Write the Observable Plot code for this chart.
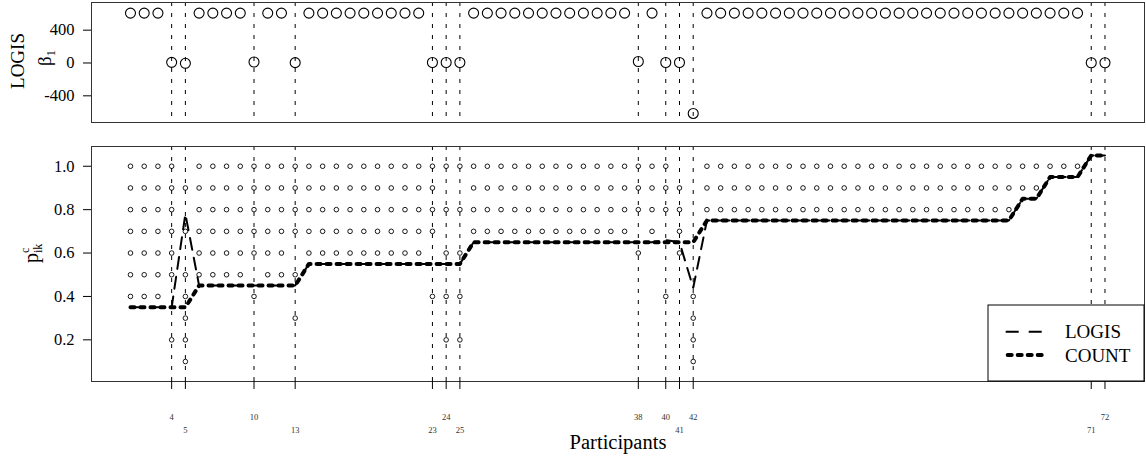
<!DOCTYPE html>
<html><head><meta charset="utf-8">
<script src="https://cdn.jsdelivr.net/npm/d3@7"></script>
<script src="https://cdn.jsdelivr.net/npm/@observablehq/plot@0.6"></script>
<style>
html,body{margin:0;padding:0;background:#fff;}
#chart svg{display:block;}
</style></head><body><div id="chart"></div>
<script>
// ---------------- data ----------------
const participants = d3.range(1, 73);

// LOGIS beta_1 per participant (top panel)
const beta1 = [
  608, 608, 608, 8, -4,                 // 1-5
  608, 608, 608, 608, 12,               // 6-10
  608, 608, 4,                          // 11-13
  608, 608, 608, 608, 608, 608, 608, 608, 608, // 14-22
  6, 6, 6,                              // 23-25
  608, 608, 608, 608, 608, 608, 608, 608, 608, 608, 608, 608, // 26-37
  18, 608, 6, 6, -615,                  // 38-42
  608, 608, 608, 608, 608, 608, 608, 608, 608, 608, 608, 608, 608, 608, // 43-56
  608, 608, 608, 608, 608, 608, 608, 608, 608, 608, 608, 608, 608, 608, // 57-70
  3, 3                                  // 71-72
];

// estimated p^c_ik, COUNT method
const count = [
  0.35, 0.35, 0.35, 0.35, 0.35,                                             // 1-5
  0.45, 0.45, 0.45, 0.45, 0.45, 0.45, 0.45, 0.45,                           // 6-13
  0.55, 0.55, 0.55, 0.55, 0.55, 0.55, 0.55, 0.55, 0.55, 0.55, 0.55, 0.55,   // 14-25
  0.65, 0.65, 0.65, 0.65, 0.65, 0.65, 0.65, 0.65, 0.65, 0.65, 0.65, 0.65, 0.65, 0.65, // 26-39
  0.65, 0.65, 0.65,                                                         // 40-42
  0.75, 0.75, 0.75, 0.75, 0.75, 0.75, 0.75, 0.75, 0.75, 0.75, 0.75, 0.75,   // 43-54
  0.75, 0.75, 0.75, 0.75, 0.75, 0.75, 0.75, 0.75, 0.75, 0.75, 0.75,         // 55-65
  0.85, 0.85,                                                               // 66-67
  0.95, 0.95, 0.95,                                                         // 68-70
  1.05, 1.05                                                                // 71-72
];

// estimated p^c_ik, LOGIS method
const logis = [
  0.35, 0.35, 0.35, 0.35, 0.78,                                             // 1-5
  0.45, 0.45, 0.45, 0.45, 0.45, 0.45, 0.45, 0.45,                           // 6-13
  0.55, 0.55, 0.55, 0.55, 0.55, 0.55, 0.55, 0.55, 0.55, 0.55, 0.55, 0.55,   // 14-25
  0.65, 0.65, 0.65, 0.65, 0.65, 0.65, 0.65, 0.65, 0.65, 0.65, 0.65, 0.65, 0.65, 0.65, // 26-39
  0.66, 0.65, 0.44,                                                         // 40-42
  0.75, 0.75, 0.75, 0.75, 0.75, 0.75, 0.75, 0.75, 0.75, 0.75, 0.75, 0.75,   // 43-54
  0.75, 0.75, 0.75, 0.75, 0.75, 0.75, 0.75, 0.75, 0.75, 0.75, 0.75,         // 55-65
  0.85, 0.85,                                                               // 66-67
  0.95, 0.95, 0.95,                                                         // 68-70
  1.05, 1.05                                                                // 71-72
];

// observed values per participant (small circles, bottom panel)
const observed = [
  [0.4,0.5,0.6,0.7,0.8,0.9,1.0],   // 1
  [0.4,0.5,0.6,0.7,0.8,0.9,1.0],   // 2
  [0.4,0.5,0.6,0.7,0.8,0.9,1.0],   // 3
  [0.2,0.5,0.6,0.7,0.8,0.9,1.0],   // 4
  [0.1,0.2,0.3,0.4,0.5,0.7,0.9],   // 5
  [0.5,0.6,0.7,0.8,0.9,1.0],       // 6
  [0.5,0.6,0.7,0.8,0.9,1.0],       // 7
  [0.5,0.6,0.7,0.8,0.9,1.0],       // 8
  [0.5,0.6,0.7,0.8,0.9,1.0],       // 9
  [0.4,0.6,0.7,0.8,0.9,1.0],       // 10
  [0.5,0.6,0.7,0.8,0.9,1.0],       // 11
  [0.5,0.6,0.7,0.8,0.9,1.0],       // 12
  [0.3,0.5,0.7,0.8,0.9,1.0],       // 13
  [0.6,0.7,0.8,0.9,1.0],           // 14
  [0.6,0.7,0.8,0.9,1.0],           // 15
  [0.6,0.7,0.8,0.9,1.0],           // 16
  [0.6,0.7,0.8,0.9,1.0],           // 17
  [0.6,0.7,0.8,0.9,1.0],           // 18
  [0.6,0.7,0.8,0.9,1.0],           // 19
  [0.6,0.7,0.8,0.9,1.0],           // 20
  [0.6,0.7,0.8,0.9,1.0],           // 21
  [0.6,0.7,0.8,0.9,1.0],           // 22
  [0.4,0.7,0.8,0.9,1.0],           // 23
  [0.2,0.4,0.6,0.8,1.0],           // 24
  [0.2,0.4,0.6,0.8,1.0],           // 25
  [0.7,0.8,0.9,1.0],               // 26
  [0.7,0.8,0.9,1.0],               // 27
  [0.7,0.8,0.9,1.0],               // 28
  [0.7,0.8,0.9,1.0],               // 29
  [0.7,0.8,0.9,1.0],               // 30
  [0.7,0.8,0.9,1.0],               // 31
  [0.7,0.8,0.9,1.0],               // 32
  [0.7,0.8,0.9,1.0],               // 33
  [0.7,0.8,0.9,1.0],               // 34
  [0.7,0.8,0.9,1.0],               // 35
  [0.7,0.8,0.9,1.0],               // 36
  [0.7,0.8,0.9,1.0],               // 37
  [0.6,0.8,0.9,1.0],               // 38
  [0.7,0.8,0.9,1.0],               // 39
  [0.4,0.8,0.9,1.0],               // 40
  [0.6,0.7,0.8,0.9],               // 41
  [0.1,0.2,0.3,0.4],               // 42
  [0.8,0.9,1.0], [0.8,0.9,1.0], [0.8,0.9,1.0], [0.8,0.9,1.0], [0.8,0.9,1.0], // 43-47
  [0.8,0.9,1.0], [0.8,0.9,1.0], [0.8,0.9,1.0], [0.8,0.9,1.0], [0.8,0.9,1.0], // 48-52
  [0.8,0.9,1.0], [0.8,0.9,1.0], [0.8,0.9,1.0], [0.8,0.9,1.0], [0.8,0.9,1.0], // 53-57
  [0.8,0.9,1.0], [0.8,0.9,1.0], [0.8,0.9,1.0], [0.8,0.9,1.0], [0.8,0.9,1.0], // 58-62
  [0.8,0.9,1.0], [0.8,0.9,1.0], [0.8,0.9,1.0],                               // 63-65
  [0.9,1.0], [0.9,1.0],            // 66-67
  [1.0], [1.0], [1.0],             // 68-70
  [], []                           // 71-72
];

const markedParticipants = [4, 5, 10, 13, 23, 24, 25, 38, 40, 41, 42, 71, 72];
const tickRow1 = [4, 10, 24, 38, 40, 42, 72];
const tickRow2 = [5, 13, 23, 25, 41, 71];
const yTicksTop = [-400, 0, 400];
const yTicksBottom = [0.2, 0.4, 0.6, 0.8, 1.0];
const seriesNames = ["LOGIS", "COUNT"];

// ---------------- build ----------------
const FONT = "'Liberation Serif', 'DejaVu Serif', serif";
const rows = participants.map((p, i) => ({p, beta: beta1[i], logis: logis[i], count: count[i]}));
const dots = participants.flatMap((p, i) => observed[i].map(v => ({p, v})));
const xDomain = [-1.84, 74.88];

const topPlot = Plot.plot({
  width: 1146, height: 134,
  marginLeft: 91, marginRight: 2, marginTop: 2, marginBottom: 12,
  x: {domain: xDomain, axis: null},
  y: {domain: [-725, 737]},
  style: {fontFamily: FONT, background: "#fff", color: "#000"},
  marks: [
    Plot.ruleX(markedParticipants, {stroke: "#000", strokeWidth: 1, strokeDasharray: "4,7"}),
    Plot.dot(rows, {x: "p", y: "beta", r: 5, stroke: "#000", strokeWidth: 1.1, fill: "none"}),
    Plot.frame({stroke: "#333", strokeWidth: 1}),
    Plot.axisY(yTicksTop, {tickSize: 8, tickPadding: 9, tickFormat: d => String(d), fontSize: 16.5, label: null})
  ]
});

const bottomPlot = Plot.plot({
  width: 1146, height: 328,
  marginLeft: 91, marginRight: 2, marginTop: 12, marginBottom: 81,
  x: {domain: xDomain},
  y: {domain: [0.008, 1.091]},
  style: {fontFamily: FONT, background: "#fff", color: "#000"},
  marks: [
    Plot.ruleX(markedParticipants, {stroke: "#000", strokeWidth: 1, strokeDasharray: "4,7"}),
    Plot.dot(dots, {x: "p", y: "v", r: 2.3, stroke: "#000", strokeWidth: 0.9, fill: "none"}),
    Plot.line(rows, {x: "p", y: "logis", stroke: "#000", strokeWidth: 2, strokeDasharray: "12,8"}),
    Plot.line(rows, {x: "p", y: "count", stroke: "#000", strokeWidth: 4, strokeDasharray: "4,6", strokeLinecap: "round"}),
    Plot.frame({stroke: "#333", strokeWidth: 1}),
    Plot.axisY(yTicksBottom, {tickSize: 8, tickPadding: 9, tickFormat: d3.format(".1f"), fontSize: 16.5, label: null}),
    Plot.axisX(tickRow1, {tickSize: 8, tickPadding: 24, tickFormat: d => String(d), fontSize: 8.5, fill: "#333", label: null}),
    Plot.axisX(tickRow2, {tickSize: 8, tickPadding: 37, tickFormat: d => String(d), fontSize: 8.5, fill: "#333", label: null}),
    Plot.text(["Participants"], {text: d => d, frameAnchor: "bottom", dy: 67, fontSize: 20.5})
  ]
});

const chart = document.getElementById("chart");
chart.appendChild(topPlot);
chart.appendChild(bottomPlot);

// y-axis titles
const ts = d3.select(topPlot);
const gT = ts.append("g").attr("font-family", FONT).attr("fill", "#000");
gT.append("text").attr("transform", "translate(24,61) rotate(-90)")
  .attr("text-anchor", "middle").attr("font-size", 19).text("LOGIS");
const bt = gT.append("text").attr("transform", "translate(51,58) rotate(-90)")
  .attr("text-anchor", "middle").attr("font-size", 19);
bt.append("tspan").text("β");
bt.append("tspan").attr("font-size", 13).attr("dy", 4).text("1");

const bs = d3.select(bottomPlot);
const gB = bs.append("g").attr("font-family", FONT).attr("fill", "#000")
  .attr("text-anchor", "start")
  .attr("transform", "translate(38,119) rotate(-90)");
gB.append("text").attr("x", -10).attr("y", 0).attr("font-size", 20).text("p");
gB.append("text").attr("x", 0).attr("y", -9).attr("font-size", 12).text("c");
gB.append("text").attr("x", 0).attr("y", 4).attr("font-size", 12).text("ik");

// legend
const lg = bs.append("g").attr("font-family", FONT).attr("text-anchor", "start");
lg.append("rect").attr("x", 988).attr("y", 171).attr("width", 156).attr("height", 76)
  .attr("fill", "#fff").attr("stroke", "#000").attr("stroke-width", 1);
lg.append("line").attr("x1", 1005.7).attr("x2", 1043).attr("y1", 197.7).attr("y2", 197.7)
  .attr("stroke", "#000").attr("stroke-width", 2).attr("stroke-dasharray", "13,10");
lg.append("line").attr("x1", 1007.7).attr("x2", 1041.7).attr("y1", 221).attr("y2", 221)
  .attr("stroke", "#000").attr("stroke-width", 4).attr("stroke-dasharray", "4,6").attr("stroke-linecap", "round");
lg.append("text").attr("x", 1065).attr("y", 197.7).attr("dy", "0.35em").attr("font-size", 19).attr("fill", "#000").text(seriesNames[0]);
lg.append("text").attr("x", 1065).attr("y", 221).attr("dy", "0.35em").attr("font-size", 19).attr("fill", "#000").text(seriesNames[1]);
</script></body></html>
